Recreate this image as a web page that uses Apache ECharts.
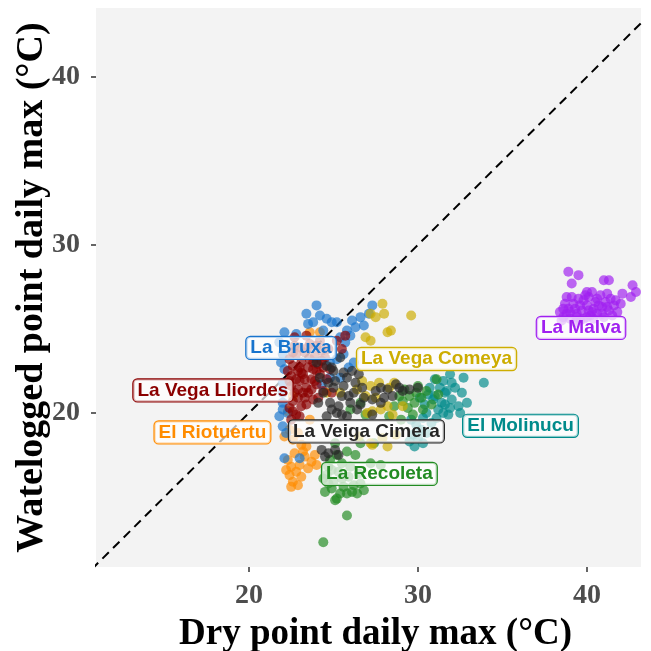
<!DOCTYPE html>
<html>
<head>
<meta charset="utf-8">
<script src="https://cdn.jsdelivr.net/npm/echarts@6/dist/echarts.min.js"></script>
<style>html,body{margin:0;padding:0;background:#fff}#c{width:651px;height:651px}</style>
</head>
<body>
<div id="c"></div>
<script>
// ---- data (dry point daily max, waterlogged point daily max), °C ----
const sites = ["El Molinucu","El Riotuertu","La Bruxa","La Malva","La Recoleta","La Vega Comeya","La Vega Lliordes","La Veiga Cimera"];
const siteColors = ["#008B8B","#FF8C00","#1874CD","#A020F0","#228B22","#CDAD00","#8B0000","#262626"];

const elMolinucu = [[31.9,22.3],[32.7,22.1],[33.9,21.8],[31.5,21.9],[32.2,21.5],[31.6,21.2],[32.0,20.8],[32.6,21.2],[32.9,20.6],[31.0,21.0],[31.4,20.6],[30.5,20.0],[31.2,20.2],[31.8,19.9],[30.8,19.4],[30.2,19.0],[30.0,18.5],[29.8,18.0],[30.5,18.8],[31.5,20.0],[32.4,20.4],[30.7,21.5],[31.7,21.3],[30.3,19.7],[29.9,19.3],[31.1,19.7],[32.0,21.8],[30.4,20.5],[31.3,21.5],[32.5,20.0],[29.7,18.7],[30.9,20.8],[31.6,20.5],[30.1,20.9],[29.6,19.6],[30.6,21.1],[31.9,20.3],[29.5,18.3],[30.3,18.2],[31.0,22.0]];
const elRiotuertu = [[23.6,24.8],[24.2,24.8],[22.1,18.6],[22.6,18.4],[23.1,18.1],[22.4,19.0],[22.9,18.8],[22.3,17.2],[22.5,16.8],[22.4,16.3],[22.6,15.9],[22.8,16.5],[23.0,16.9],[23.1,16.2],[23.3,17.4],[23.5,16.7],[23.7,17.1],[22.7,17.6],[23.2,17.7],[22.9,15.7],[22.5,15.6],[23.9,17.5],[24.0,16.9],[23.4,18.0],[22.2,16.6],[22.3,20.1],[22.6,21.0],[23.6,19.6]];
const laBruxa = [[24.0,26.4],[23.4,25.9],[24.2,25.8],[24.6,25.6],[24.9,25.4],[25.2,25.4],[27.3,26.4],[27.1,25.9],[26.8,25.2],[26.3,25.1],[25.8,24.9],[25.4,24.5],[22.1,24.8],[22.8,24.7],[21.8,24.2],[22.1,22.6],[22.0,21.2],[22.0,20.6],[21.8,19.8],[22.0,19.2],[22.1,17.3],[23.0,17.3],[25.2,23.2],[25.9,22.7],[25.4,22.1],[24.8,22.1],[23.8,25.4],[26.1,25.5],[26.6,25.7],[25.7,24.2],[22.0,23.5],[22.0,21.8],[22.0,20.2],[22.2,18.8],[25.6,23.5],[24.3,21.7],[23.5,25.3],[24.4,24.9],[26.0,24.6],[21.9,23.0],[22.3,20.0],[24.8,23.0],[26.2,23.0]];
const laMalva = [[38.9,28.4],[39.5,28.2],[39.1,27.7],[41.0,27.9],[41.3,27.9],[42.7,27.6],[42.9,27.2],[42.6,26.9],[42.1,27.1],[42.0,26.5],[40.0,27.2],[40.3,27.2],[38.8,26.9],[38.4,26.0],[38.6,25.7],[38.9,26.2],[39.0,25.6],[39.2,26.5],[39.4,25.9],[39.5,26.8],[39.7,26.1],[39.8,25.6],[40.0,26.4],[40.1,26.9],[40.2,25.8],[40.4,26.2],[40.5,26.6],[40.6,25.9],[40.8,27.0],[40.9,26.3],[41.0,25.7],[41.1,26.6],[41.3,26.1],[41.4,26.8],[41.6,26.4],[41.8,26.0],[39.1,26.9],[38.7,26.5],[39.9,27.0],[40.3,26.0],[41.2,27.1],[38.5,25.5],[39.3,25.4],[39.6,25.5],[40.7,26.4],[41.5,25.8],[39.0,26.0],[40.0,25.7],[38.8,25.9],[39.3,26.2],[39.6,26.4],[40.1,26.1],[40.4,25.6],[40.9,25.9],[41.2,26.3],[39.8,26.7],[38.6,26.2],[39.4,25.7],[40.6,26.8],[41.7,26.7]];
const laRecoleta = [[25.8,17.7],[25.2,17.5],[24.7,16.8],[24.4,16.1],[24.5,15.3],[25.1,14.8],[25.8,15.2],[26.4,15.2],[26.6,15.8],[27.2,17.0],[27.8,16.9],[25.8,13.9],[24.4,12.3],[24.6,16.3],[25.0,15.9],[25.3,16.5],[25.6,15.6],[25.9,16.2],[26.2,15.7],[25.4,15.2],[24.9,15.5],[26.0,16.8],[25.5,17.0],[24.8,17.2],[26.5,16.4],[25.2,14.9],[26.8,15.4],[26.6,18.2],[27.4,18.2],[25.1,18.2],[26.3,17.5],[29.2,21.4],[29.5,21.0],[29.8,20.6],[29.4,20.3],[30.0,21.6],[30.2,20.9],[29.7,19.9],[30.5,21.3],[30.8,20.5],[29.1,20.7],[31.1,22.0],[30.3,20.2],[29.9,21.2],[31.2,21.1],[28.9,21.0],[28.6,20.4],[26.0,20.2],[26.6,20.6],[26.9,19.9],[28.3,19.8],[29.0,19.6],[24.7,15.8],[25.5,16.1],[26.1,15.3],[24.9,16.6]];
const laVegaComeya = [[27.9,26.5],[28.0,25.9],[29.6,25.8],[27.2,25.9],[27.5,25.7],[28.2,24.8],[27.2,24.3],[26.9,24.5],[28.4,24.9],[24.6,21.2],[25.4,21.2],[26.7,21.9],[27.2,21.6],[27.7,21.8],[28.3,21.5],[26.9,21.0],[27.5,20.9],[27.8,20.2],[28.5,19.9],[28.2,20.4],[29.1,20.4],[27.3,20.1],[27.0,20.0],[28.6,21.8],[26.4,21.4],[28.2,18.0],[27.3,18.1],[27.2,18.2],[26.5,18.6],[28.7,18.7],[27.9,18.5]];
const laVegaLliordes = [[25.7,24.6],[25.2,24.3],[25.5,23.8],[22.7,24.5],[23.4,24.6],[24.2,24.3],[22.4,23.2],[22.6,22.8],[22.5,22.2],[22.8,23.5],[22.9,22.5],[23.0,21.9],[23.1,23.0],[23.2,22.3],[23.3,23.6],[23.4,21.5],[23.5,22.7],[23.6,23.2],[23.7,22.0],[23.8,22.6],[23.9,23.4],[24.0,21.7],[24.1,22.9],[24.2,22.3],[24.3,23.7],[24.4,21.3],[22.5,21.6],[22.7,21.2],[22.6,20.7],[22.9,20.9],[23.1,20.4],[23.3,20.9],[23.5,21.2],[23.8,20.8],[22.4,20.3],[22.8,19.9],[24.6,22.0],[24.8,22.6],[24.5,23.3],[23.0,23.9],[22.3,22.5],[22.7,24.0],[23.6,24.1],[24.0,24.0],[24.7,23.8],[22.5,19.6],[23.2,21.2],[23.9,21.9],[22.8,22.0],[24.1,20.9],[24.9,21.2],[22.4,21.9],[22.6,23.6],[23.0,22.7],[23.3,22.0],[23.5,23.9],[23.7,21.4],[24.0,22.5],[24.3,23.1],[22.9,21.4],[23.4,20.5],[22.6,20.1],[23.0,19.8],[24.4,22.7],[23.8,23.0],[23.1,22.4]];
const laVeigaCimera = [[24.9,22.7],[25.8,22.1],[26.3,21.8],[26.7,21.5],[24.4,21.2],[24.8,20.6],[25.2,20.0],[25.8,19.8],[25.5,21.0],[25.0,21.5],[26.0,20.6],[26.4,20.2],[24.6,19.8],[26.2,21.2],[25.6,22.4],[27.8,21.5],[28.2,21.4],[28.9,21.5],[28.5,21.0],[27.8,20.6],[27.3,20.8],[27.3,19.9],[29.1,21.3],[29.5,21.4],[30.0,21.5],[24.2,22.1],[24.6,22.8],[25.4,23.3],[24.3,17.8],[24.7,17.6],[25.1,17.8],[24.5,17.4],[25.3,17.5],[25.0,22.5],[26.5,22.3],[25.3,20.4],[24.1,20.6],[26.8,20.9],[28.0,20.9],[24.0,23.0],[25.1,21.9],[25.6,21.6],[24.7,21.8],[25.9,21.0],[26.6,20.5],[24.9,20.2],[25.5,19.9],[26.1,22.5],[28.7,21.7],[27.5,21.3]];
const siteData = [elMolinucu, elRiotuertu, laBruxa, laMalva, laRecoleta, laVegaComeya, laVegaLliordes, laVeigaCimera];

// label anchor positions (data units)
const labelPos = [[36.07,19.23],[17.84,18.84],[22.49,23.87],[39.65,25.06],[27.72,16.37],[31.10,23.21],[17.87,21.34],[26.95,18.90]];

const xTicks = [20, 30, 40];
const yTicks = [20, 30, 40];
const xRange = [10.95, 43.2];
const yRange = [10.83, 44.1];
const identityLine = [[0, 0], [50, 50]];

const serif = "'Liberation Serif','Times New Roman',serif";
const sans = "'Liberation Sans',Arial,sans-serif";

const series = [{
  type: 'line', data: identityLine, symbol: 'none', silent: true, z: 1,
  lineStyle: {color: '#000', width: 2, type: [9, 6]}
}];
siteData.forEach((d, i) => {
  series.push({
    type: 'scatter', name: sites[i], data: d, symbolSize: 10, z: 2,
    itemStyle: {color: siteColors[i], opacity: 0.68}
  });
});
series.push({
  type: 'scatter', symbolSize: 0, z: 10, silent: true,
  itemStyle: {opacity: 1},
  data: sites.map((s, i) => ({
    name: s, value: labelPos[i],
    label: {color: siteColors[i], borderColor: siteColors[i]}
  })),
  label: {
    show: true, position: 'inside', formatter: '{b}',
    fontFamily: sans, fontWeight: 'bold', fontSize: 19, lineHeight: 19,
    backgroundColor: 'rgba(255,255,255,0.7)', borderWidth: 1.2, borderRadius: 4,
    padding: [2, 4, 1, 4]
  }
});

const chart = echarts.init(document.getElementById('c'), null, {renderer: 'canvas'});
chart.setOption({
  animation: false,
  grid: {left: 96, top: 8, width: 545, height: 559, show: true, backgroundColor: '#F3F3F3', borderWidth: 0, outerBoundsMode: 'none', containLabel: false},
  xAxis: {
    type: 'value', min: xRange[0], max: xRange[1],
    name: 'Dry point daily max (°C)', nameLocation: 'middle', nameGap: 49, nameMoveOverlap: false,
    nameTextStyle: {fontFamily: serif, fontWeight: 'bold', fontSize: 37, color: '#000', padding: [0, 0, 0, 14]},
    axisLine: {show: false}, splitLine: {show: false},
    axisTick: {show: true, length: 5, customValues: xTicks, lineStyle: {color: '#333', width: 1.5}},
    axisLabel: {customValues: xTicks, margin: 15, fontFamily: serif, fontWeight: 'bold', fontSize: 28, color: '#4D4D4D'}
  },
  yAxis: {
    type: 'value', min: yRange[0], max: yRange[1],
    name: 'Watelogged point daily max (°C)', nameLocation: 'middle', nameGap: 45, nameMoveOverlap: false,
    nameTextStyle: {fontFamily: serif, fontWeight: 'bold', fontSize: 38, color: '#000'},
    axisLine: {show: false}, splitLine: {show: false},
    axisTick: {show: true, length: 5, customValues: yTicks, lineStyle: {color: '#333', width: 1.5}},
    axisLabel: {customValues: yTicks, margin: 16, fontFamily: serif, fontWeight: 'bold', fontSize: 28, color: '#4D4D4D'}
  },
  series: series
});
</script>
</body>
</html>
